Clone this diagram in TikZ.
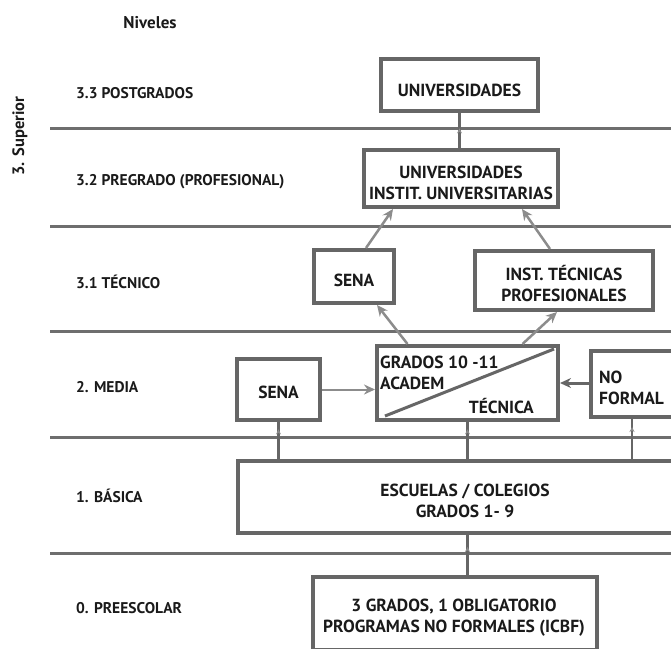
\documentclass[tikz,border=0pt]{standalone}
\usepackage{fontspec}
\setmainfont{PT Sans}
\usetikzlibrary{arrows.meta,calc,decorations.markings}
\definecolor{linegray}{HTML}{6E6E6E}
\definecolor{boxgray}{HTML}{666666}
\definecolor{arrgray}{HTML}{8C8C8C}
\definecolor{txt}{HTML}{1A1A1A}
\tikzset{
  level/.style={draw=linegray, line width=3pt},
  box/.style={draw=boxgray, line width=4pt, fill=white, inner sep=0pt},
  lbl/.style={anchor=west, inner sep=0pt, text=txt, font=\fontsize{15.5}{20}\selectfont\bfseries},
  intxt/.style={inner sep=0pt, text=txt, align=center, font=\fontsize{17.5}{21}\selectfont\bfseries},
  bigarrow/.style={draw=arrgray, line width=2.5pt, -{Stealth[length=11pt,width=10pt]}},
  conn/.style={draw=boxgray, line width=2.5pt},
  smallmark/.style={postaction={decorate}, decoration={markings,
     mark=at position #1 with {\arrow[arrgray]{Stealth[length=5pt,width=5pt]}}}}
}
\begin{document}
\begin{tikzpicture}[x=1pt,y=-1pt]
\useasboundingbox (0,0) rectangle (671,648);
\clip (0,0) rectangle (671,648);
% level lines
\foreach \yy in {128,226,331,437,553} \draw[level] (50,\yy) -- (680,\yy);
% titles
\node[lbl, anchor=center, font=\fontsize{17}{20}\selectfont\bfseries] (niveles) at (150,23) {Niveles};
\node[lbl, anchor=center, rotate=90, font=\fontsize{16.5}{20}\selectfont\bfseries] (superior) at (20,136) {3. Superior};
\node[lbl] (l33) at (76,93) {3.3 POSTGRADOS};
\node[lbl] (l32) at (76,182) {3.2 PREGRADO (PROFESIONAL)};
\node[lbl] (l31) at (76,282) {3.1 TÉCNICO};
\node[lbl] (l2) at (76,387) {2. MEDIA};
\node[lbl] (l1) at (76,496) {1. BÁSICA};
\node[lbl] (l0) at (76,608) {0. PREESCOLAR};
% boxes
\node[box, minimum width=157pt, minimum height=52pt] (u3) at (459.5,85) {};
\node[box, minimum width=194pt, minimum height=57pt] (u2) at (461,178.5) {};
\node[box, minimum width=80pt, minimum height=53pt] (sena3) at (354,276.5) {};
\node[box, minimum width=178pt, minimum height=59pt] (inst) at (564,280.5) {};
\node[box, minimum width=181pt, minimum height=74pt] (grados) at (467.5,383) {};
\node[box, minimum width=83pt, minimum height=61pt] (sena2) at (278.5,389.5) {};
\node[box, minimum width=82pt, minimum height=66pt] (noformal) at (632,384) {};
\node[box, minimum width=435pt, minimum height=72pt] (escuelas) at (455.5,497) {};
\node[box, minimum width=284pt, minimum height=73pt] (pre) at (455,613.5) {};
% box texts
\node[intxt] (u3t) at ([yshift=-5pt]u3.center) {UNIVERSIDADES};
\node[intxt] (u2t) at ([yshift=-4pt]u2.center) {UNIVERSIDADES\\INSTIT. UNIVERSITARIAS};
\node[intxt] (sena3t) at ([yshift=-4pt]sena3.center) {SENA};
\node[intxt] (instt) at ([yshift=-3pt]inst.center) {INST. TÉCNICAS\\PROFESIONALES};
\node[intxt] (sena2t) at ([yshift=-3pt]sena2.center) {SENA};
\node[intxt] (escuelast) at (465,501) {ESCUELAS / COLEGIOS\\GRADOS 1- 9};
\node[intxt] (pret) at (454,617.5) {3 GRADOS, 1 OBLIGATORIO\\PROGRAMAS NO FORMALES (ICBF)};
% split box
\draw[draw=boxgray, line width=3pt] ([shift={(10pt,6pt)}]grados.south west) -- ([shift={(-6pt,-5pt)}]grados.north east);
\node[intxt, anchor=west] (g1) at (380,362) {GRADOS 10 -11};
\node[intxt, anchor=west] (g2) at (380,383) {ACADEM};
\node[intxt, anchor=east] (g3) at (534,406) {TÉCNICA};
\node[intxt, anchor=west, align=left] (nf) at (599,388) {NO\\FORMAL};
% connectors
\draw[conn, smallmark=0.56] (u2.north -| u3.south) -- (u3.south);
\draw[bigarrow] ([xshift=12pt]sena3.north) -- ([xshift=-68pt]u2.south);
\draw[bigarrow] ([xshift=-14pt]inst.north) -- ([xshift=61pt]u2.south);
\draw[bigarrow] ([xshift=-60pt]grados.north) -- ([xshift=23pt]sena3.south);
\draw[bigarrow] ([xshift=55pt]grados.north) -- ([xshift=-7pt]inst.south);
\draw[bigarrow, line width=2pt] (sena2.east) -- (sena2.east -| grados.west);
\draw[bigarrow, draw=boxgray, line width=3pt] (noformal.west |- grados.east) -- (grados.east);
\draw[conn, smallmark=0.8] (escuelas.north -| sena2.south) -- (sena2.south);
\draw[conn, smallmark=0.8] (escuelas.north -| grados.south) -- (grados.south);
\draw[conn, smallmark=0.8] (escuelas.north -| noformal.south) -- (noformal.south);
\draw[conn, smallmark=0.7] (pre.north -| grados.south) -- (escuelas.south -| grados.south);
\end{tikzpicture}
\end{document}
